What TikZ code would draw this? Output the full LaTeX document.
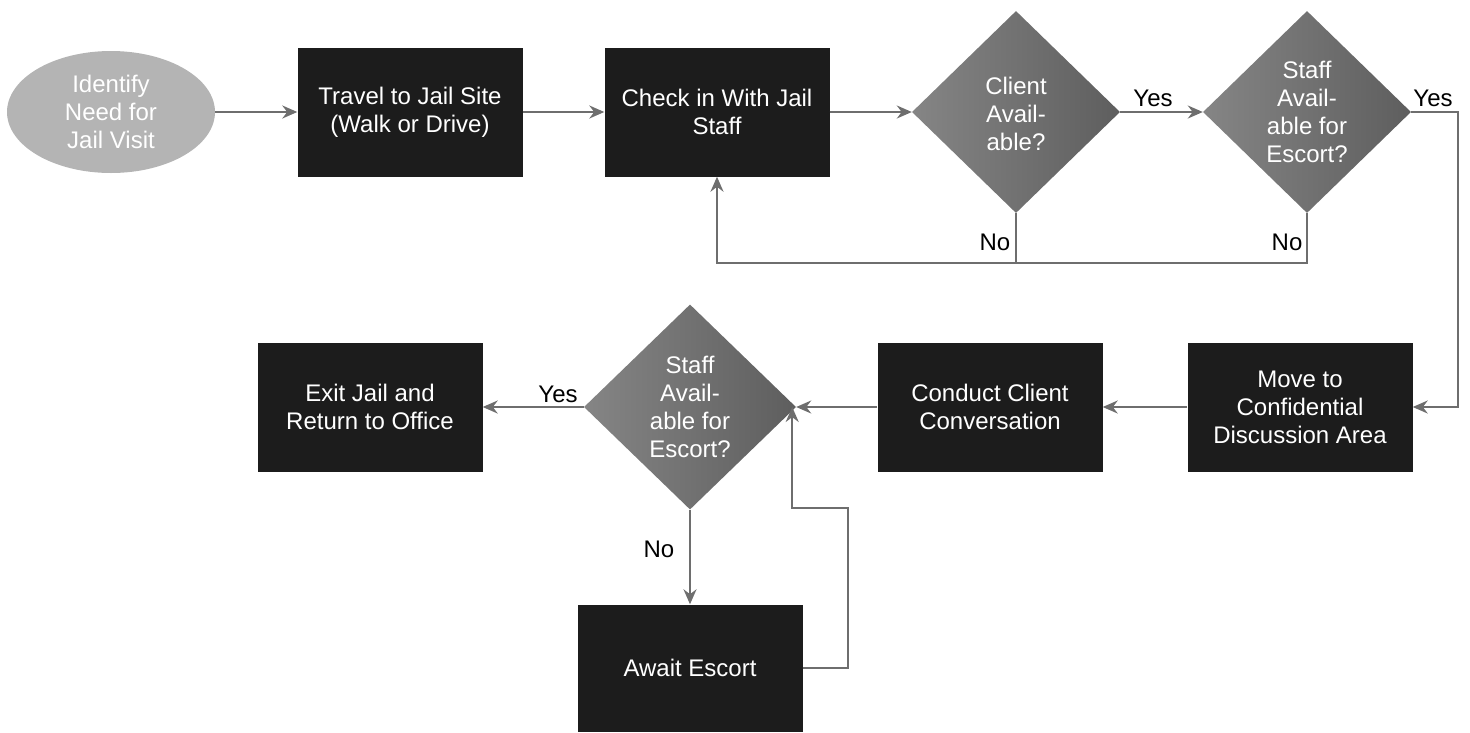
\documentclass[tikz,border=0pt]{standalone}
\usepackage{fontspec}
\setmainfont{Liberation Sans}
\usetikzlibrary{shapes.geometric,arrows.meta}
\definecolor{boxc}{HTML}{1C1C1C}
\definecolor{diaL}{HTML}{858585}
\definecolor{diaR}{HTML}{5E5E5E}
\definecolor{ellc}{HTML}{B4B4B4}
\definecolor{linec}{HTML}{6E6E6E}
\tikzset{
  every node/.style={font=\fontsize{24}{28}\selectfont},
  procbox/.style={draw=none, fill=boxc, text=white, align=center, inner sep=0pt, minimum width=225pt, minimum height=129pt},
  decbox/.style={diamond, left color=diaL, right color=diaR, draw=none, inner sep=0pt, minimum width=208pt, minimum height=202pt},
  dectext/.style={text=white, align=center, inner sep=0pt},
  conn/.style={draw=linec, line width=2pt, -{Stealth[length=15pt,width=13pt]}},
  plain/.style={draw=linec, line width=2pt},
  lbl/.style={text=black, inner sep=0pt}
}
\begin{document}
\begin{tikzpicture}[x=1pt,y=-1pt]
\useasboundingbox (0,0) rectangle (1470,732);
% start ellipse
\node[ellipse, fill=ellc, text=white, align=center, minimum width=208pt, minimum height=122pt, inner sep=0pt] (start) at (111,112) {Identify\\Need for\\Jail Visit};
% top row
\node[procbox] (travel) at (410,112) {Travel to Jail Site\\(Walk or Drive)};
\node[procbox] (check) at (717,112) {Check in With Jail\\Staff};
\node[decbox] (d1) at (1016,112) {};
\node[dectext] (d1t) at (1016,114) {Client\\Avail-\\able?};
\node[decbox] (d2) at (1307,112) {};
\node[dectext] (d2t) at (1307,112) {Staff\\Avail-\\able for\\Escort?};
% bottom row
\node[procbox] (move) at (1300,407) {Move to\\Confidential\\Discussion Area};
\node[procbox] (conduct) at (990,407) {Conduct Client\\Conversation};
\node[decbox, minimum width=212pt, minimum height=205pt] (d3) at (690,407) {};
\node[dectext] (d3t) at (690,407) {Staff\\Avail-\\able for\\Escort?};
\node[procbox] (exit) at (370,407) {Exit Jail and\\Return to Office};
\node[procbox, minimum height=127pt] (await) at (690,668) {Await Escort};
% corner coordinates
\coordinate (c1) at (717,263);
\coordinate (c2) at (1458,112);
\coordinate (c3) at (848,508);
% connectors
\draw[conn] (start) -- (travel);
\draw[conn] (travel) -- (check);
\draw[conn] (check) -- (d1.west);
\draw[conn] (d1.east) -- (d2.west);
\draw[conn] (d1.south) |- (c1) -- (check.south);
\draw[plain] (d2.south) |- (1016,263);
\draw[conn] (d2.east) -- (c2) |- (move.east);
\draw[conn] (move) -- (conduct);
\draw[conn] (conduct) -- (d3.east);
\draw[conn] (d3.west) -- (exit);
\draw[conn] (d3.south) -- (await.north);
\draw[conn] (await.east) -| (c3) -| ([xshift=-4pt]d3.east);
% labels
\node[lbl] (y1) at (1153,98) {Yes};
\node[lbl] (y2) at (1433,98) {Yes};
\node[lbl] (n1) at (995,242) {No};
\node[lbl] (n2) at (1287,242) {No};
\node[lbl] (y3) at (558,394) {Yes};
\node[lbl] (n3) at (659,549) {No};
\end{tikzpicture}
\end{document}
